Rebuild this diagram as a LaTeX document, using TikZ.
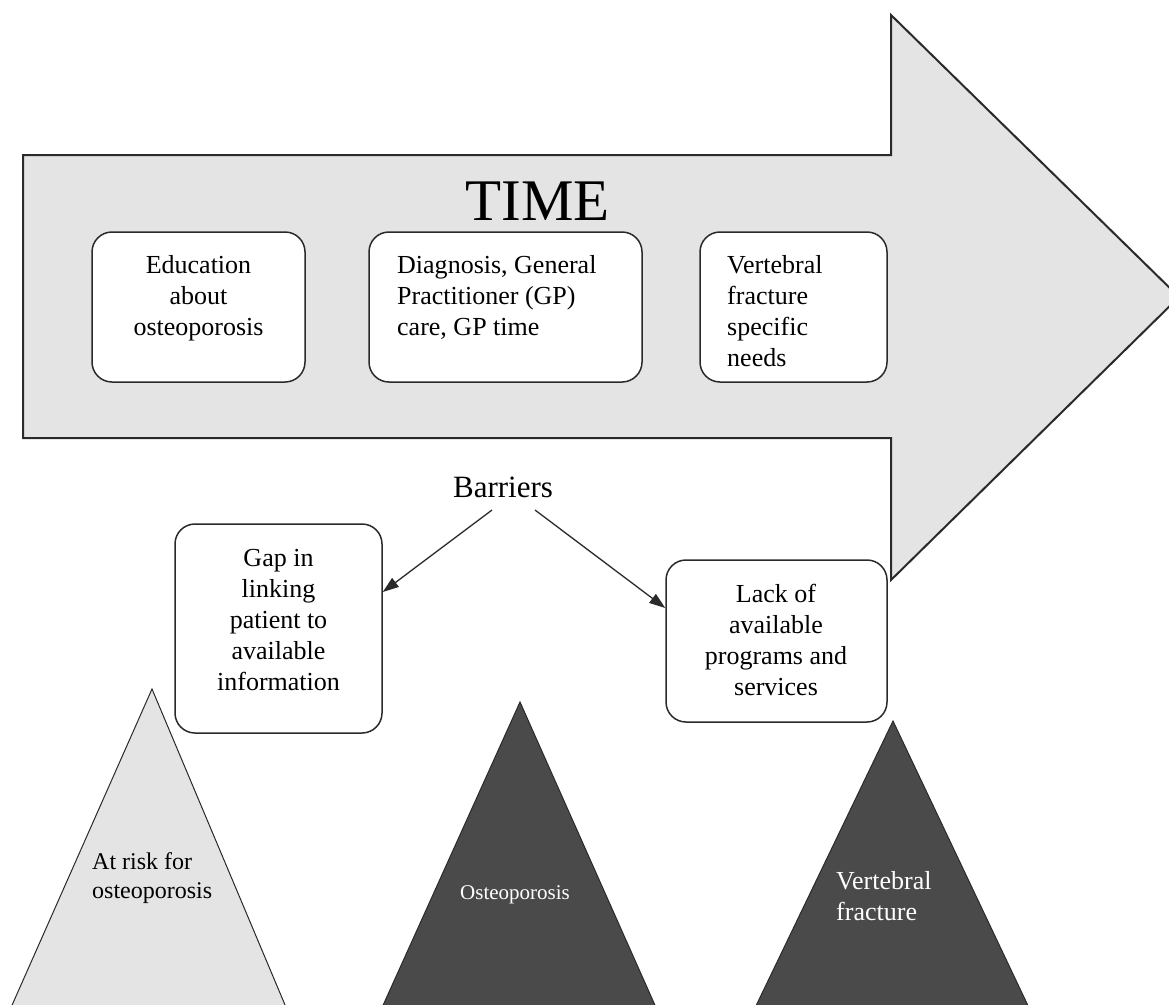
\documentclass[tikz,border=0pt]{standalone}
\usepackage{fontspec}
\setmainfont{Liberation Serif}
\usetikzlibrary{arrows.meta}
\definecolor{edge}{HTML}{2A2A2A}
\definecolor{lightfill}{HTML}{E4E4E4}
\definecolor{darkfill}{HTML}{4A4A4A}
\begin{document}
\begin{tikzpicture}[x=1pt,y=-1pt,
  box/.style={draw=edge, line width=1.5pt, rounded corners=20pt, fill=white, inner sep=0pt},
  txt/.style={inner sep=0pt, font=\fontsize{26}{31}\selectfont},
  tri/.style={draw=edge, line width=1pt},
  arr/.style={draw=edge, line width=1.3pt, -{Triangle[length=16pt,width=11pt]}}]
\useasboundingbox (0,0) rectangle (1169,1004);
\fill[white] (0,0) rectangle (1169,1004);
\clip (0,0) rectangle (1169,1004);
% big TIME arrow
\draw[edge, line width=2pt, fill=lightfill, line join=miter]
  (23,155) -- (891,155) -- (891,15) -- (1179,297) -- (891,580) -- (891,438) -- (23,438) -- cycle;
\node[inner sep=0pt, font=\fontsize{59}{59}\selectfont, anchor=base] (time) at (537.5,220) {TIME};
% boxes in the arrow
\node[box, minimum width=213pt, minimum height=150pt] (edu) at (198.5,307) {};
\node[txt, anchor=north, align=center] (edut) at (198.5,255) {Education\\about\\osteoporosis};
\node[box, minimum width=273pt, minimum height=150pt] (diag) at (505.5,307) {};
\node[txt, anchor=north west, align=left] (diagt) at (397,255) {Diagnosis, General\\Practitioner (GP)\\care, GP time};
\node[box, minimum width=187pt, minimum height=150pt] (vfn) at (793.5,307) {};
\node[txt, anchor=north west, align=left] (vfnt) at (727,255) {Vertebral\\fracture\\specific\\needs};
% barriers
\node[inner sep=0pt, font=\fontsize{31}{31}\selectfont, anchor=base] (barriers) at (503,497) {Barriers};
\node[box, minimum width=207pt, minimum height=209pt] (gap) at (278.5,628.5) {};
\node[txt, anchor=north, align=center] (gapt) at (278.5,549) {Gap in\\linking\\patient to\\available\\information};
\node[box, minimum width=221pt, minimum height=162pt] (lack) at (776.5,641) {};
\node[txt, anchor=north, align=center] (lackt) at (776,584) {Lack of\\available\\programs and\\services};
\draw[arr] ([xshift=-11pt,yshift=-13pt]barriers.base) -- ([yshift=36.5pt]gap.east);
\draw[arr] ([xshift=32pt,yshift=-13pt]barriers.base) -- ([yshift=33pt]lack.west);
% triangles
\draw[tri, fill=lightfill] (9,1012) -- (152,689) -- (288,1012) -- cycle;
\draw[tri, fill=darkfill] (380,1012) -- (520,702) -- (658,1012) -- cycle;
\draw[tri, fill=darkfill] (753,1012) -- (893,721) -- (1031,1012) -- cycle;
\node[inner sep=0pt, font=\fontsize{24}{29}\selectfont, anchor=north west, align=left] (risk) at (92,852.5) {At risk for\\osteoporosis};
\node[inner sep=0pt, font=\fontsize{21}{25}\selectfont, anchor=base, text=white] (osteo) at (515,899) {Osteoporosis};
\node[txt, anchor=north west, align=left, text=white] (vf) at (836,871) {Vertebral\\fracture};
\end{tikzpicture}
\end{document}
